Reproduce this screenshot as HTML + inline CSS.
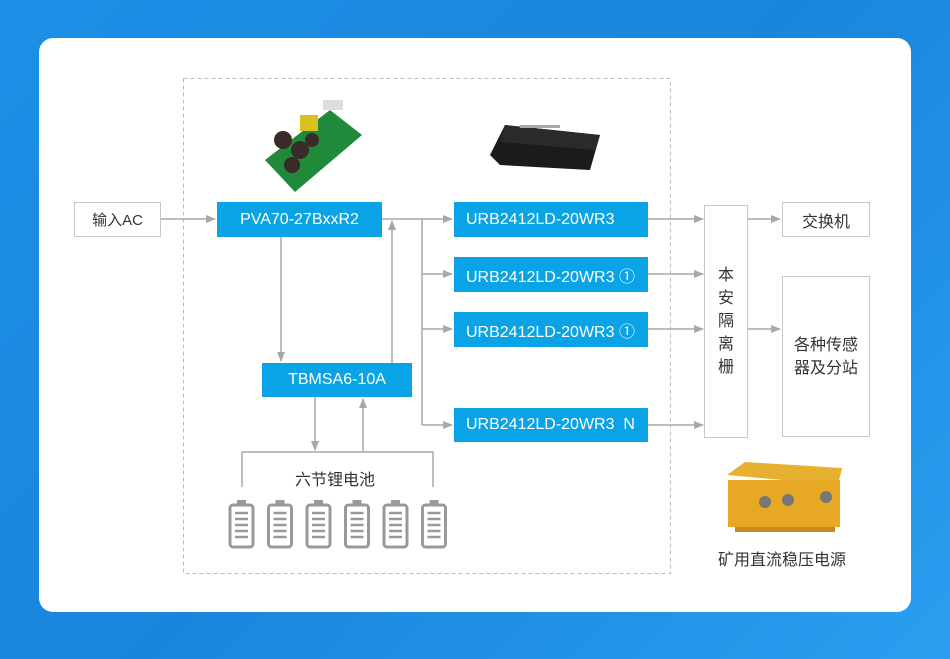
<!DOCTYPE html>
<html><head><meta charset="utf-8"><style>
body{margin:0;width:950px;height:659px;overflow:hidden;background:linear-gradient(135deg,#1d8fe6,#1a85dc 50%,#2a9ff0);font-family:"Liberation Sans","Noto Sans CJK SC",sans-serif;}
.card{position:absolute;left:39px;top:38px;width:872px;height:574px;background:#fff;border-radius:14px;}
.b{position:absolute;display:flex;align-items:center;justify-content:center;box-sizing:border-box;font-size:15px;}
.blue{background:#0aa3e6;color:#fff;}
.gray{border:1.5px solid #c8c8c8;color:#333;background:#fff;}
.t{position:absolute;font-size:15px;color:#333;}
</style></head><body>
<div class="card"></div>
<svg width="950" height="659" style="position:absolute;left:0;top:0">
<defs><marker id="a" markerWidth="10" markerHeight="8" refX="9" refY="4" orient="auto" markerUnits="userSpaceOnUse"><path d="M0,0L10,4L0,8z" fill="#a8a8a8"/></marker></defs>
<rect x="183.5" y="78.5" width="487" height="495" fill="none" stroke="#bdbdbd" stroke-dasharray="4,3"/>
<g stroke="#a8a8a8" stroke-width="1.5" fill="none">
<path d="M161 219H215" marker-end="url(#a)"/>
<path d="M382 219H452" marker-end="url(#a)"/>
<path d="M422 219V425"/>
<path d="M422 274H452" marker-end="url(#a)"/>
<path d="M422 329H452" marker-end="url(#a)"/>
<path d="M422 425H452" marker-end="url(#a)"/>
<path d="M392 363V221" marker-end="url(#a)"/>
<path d="M281 237V361" marker-end="url(#a)"/>
<path d="M315 397V450" marker-end="url(#a)"/>
<path d="M363 452V399" marker-end="url(#a)"/>
<path d="M242 487V452H433V487"/>
<path d="M648 219H703" marker-end="url(#a)"/>
<path d="M648 274H703" marker-end="url(#a)"/>
<path d="M648 329H703" marker-end="url(#a)"/>
<path d="M648 425H703" marker-end="url(#a)"/>
<path d="M747 219H780" marker-end="url(#a)"/>
<path d="M747 329H780" marker-end="url(#a)"/>
</g>
<g fill="none" stroke="#999" stroke-width="3">
<g id="bat"><rect x="230" y="505" width="23" height="42" rx="3"/><rect x="237" y="500" width="9" height="4" fill="#999" stroke="none"/>
<path d="M235 513h13M235 519h13M235 525h13M235 531h13M235 537h13" stroke-width="2.5"/></g>
<use href="#bat" x="38.5"/><use href="#bat" x="77"/><use href="#bat" x="115.5"/><use href="#bat" x="154"/><use href="#bat" x="192.5"/>
</g>
<!-- PCB -->
<g><polygon points="265,160 330,110 362,135 295,192" fill="#1f8a3a"/><rect x="300" y="115" width="18" height="16" fill="#d9c21f"/>
<circle cx="283" cy="140" r="9" fill="#3a2a28"/><circle cx="300" cy="150" r="9" fill="#3a2a28"/><circle cx="292" cy="165" r="8" fill="#3a2a28"/><circle cx="312" cy="140" r="7" fill="#3a2a28"/><rect x="323" y="100" width="20" height="10" fill="#ddd"/></g>
<!-- DC module -->
<g><polygon points="490,155 505,125 600,135 590,170 500,165" fill="#1b1b1b"/><polygon points="505,125 600,135 595,150 500,142" fill="#2a2a2a"/><rect x="520" y="125" width="40" height="3" fill="#aaa"/></g>
<!-- Yellow box -->
<g><polygon points="727,475 745,462 842,468 838,485" fill="#e8b030"/><rect x="728" y="480" width="112" height="47" fill="#e7a824"/><rect x="735" y="527" width="100" height="5" fill="#c88a1a"/>
<circle cx="765" cy="502" r="6" fill="#777"/><circle cx="788" cy="500" r="6" fill="#777"/><circle cx="826" cy="497" r="6" fill="#777"/></g>
</svg>
<div class="b gray" style="left:74px;top:202px;width:87px;height:35px">输入AC</div>
<div class="b blue" style="left:217px;top:202px;width:165px;height:35px;font-size:16px">PVA70-27BxxR2</div>
<div class="b blue" style="left:262px;top:363px;width:150px;height:34px;font-size:16px">TBMSA6-10A</div>
<div class="b blue" style="left:454px;top:202px;width:194px;height:35px;justify-content:flex-start;padding-left:12px;font-size:16px">URB2412LD-20WR3</div>
<div class="b blue" style="left:454px;top:257px;width:194px;height:35px;justify-content:flex-start;padding-left:12px;font-size:16px">URB2412LD-20WR3 ①</div>
<div class="b blue" style="left:454px;top:312px;width:194px;height:35px;justify-content:flex-start;padding-left:12px;font-size:16px">URB2412LD-20WR3 ①</div>
<div class="b blue" style="left:454px;top:408px;width:194px;height:34px;justify-content:flex-start;padding-left:12px;font-size:16px">URB2412LD-20WR3&nbsp;&nbsp;N</div>
<div class="b gray" style="left:704px;top:205px;width:44px;height:233px;line-height:23px;text-align:center;font-size:16px">本<br>安<br>隔<br>离<br>栅</div>
<div class="b gray" style="left:782px;top:202px;width:88px;height:35px;font-size:16px">交换机</div>
<div class="b gray" style="left:782px;top:276px;width:88px;height:161px;text-align:center;line-height:23px;font-size:16px">各种传感<br>器及分站</div>
<div class="t" style="left:295px;top:466px;font-size:16px">六节锂电池</div>
<div class="t" style="left:718px;top:546px;font-size:16px">矿用直流稳压电源</div>
</body></html>
